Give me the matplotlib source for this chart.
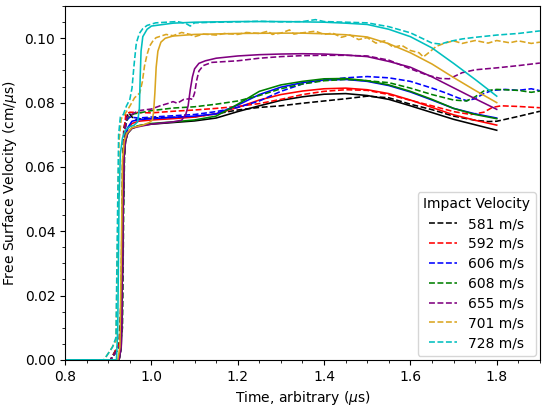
"""Free surface velocity traces: experiments (dashed) vs simulations (solid)."""

import matplotlib

matplotlib.use("Agg")
import matplotlib.pyplot as plt
from matplotlib.ticker import MultipleLocator

OUTPUT_FILE = "out.png"

VELOCITIES = ["581", "592", "606", "608", "655", "701", "728"]
COLORS = ["black", "red", "blue", "green", "purple", "goldenrod", "c"]

# --- experimental traces (dashed) ---
t_exp_581 = [0.80, 0.905, 0.925, 0.930, 0.933, 0.936, 0.942, 0.948, 0.955, 0.965, 1.0, 1.05, 1.1,
             1.15, 1.2, 1.25, 1.3, 1.35, 1.4, 1.45, 1.5, 1.55, 1.6, 1.65, 1.7, 1.75, 1.78, 1.8,
             1.82, 1.85, 1.9]
v_exp_581 = [0.0, 0.0, 0.005, 0.02, 0.06, 0.072, 0.0755, 0.0768, 0.0755, 0.0748, 0.0752, 0.0754,
             0.0756, 0.0765, 0.0777, 0.0785, 0.079, 0.0798, 0.0805, 0.0812, 0.082, 0.0815, 0.0795,
             0.0778, 0.0758, 0.0745, 0.0741, 0.0742, 0.0748, 0.0757, 0.0773]

t_exp_592 = [0.80, 0.905, 0.926, 0.931, 0.934, 0.937, 0.941, 0.95, 1.0, 1.05, 1.1, 1.15, 1.2, 1.25,
             1.3, 1.35, 1.4, 1.45, 1.5, 1.55, 1.6, 1.65, 1.7, 1.74, 1.77, 1.79, 1.81, 1.85, 1.9]
v_exp_592 = [0.0, 0.0, 0.005, 0.012, 0.05, 0.072, 0.0765, 0.077, 0.0768, 0.0773, 0.0777, 0.0782,
             0.0788, 0.0797, 0.081, 0.0825, 0.0835, 0.084, 0.0838, 0.0825, 0.0807, 0.079, 0.0772,
             0.0763, 0.077, 0.0785, 0.079, 0.0788, 0.0784]

t_exp_606 = [0.80, 0.905, 0.926, 0.932, 0.935, 0.938, 0.943, 0.95, 0.97, 1.0, 1.05, 1.1, 1.15, 1.2,
             1.25, 1.3, 1.35, 1.4, 1.45, 1.5, 1.55, 1.6, 1.65, 1.68, 1.71, 1.73, 1.75, 1.77, 1.79,
             1.82, 1.85, 1.88, 1.9]
v_exp_606 = [0.0, 0.0, 0.004, 0.01, 0.05, 0.071, 0.0745, 0.0755, 0.0752, 0.0755, 0.0759, 0.0763,
             0.0772, 0.0785, 0.0805, 0.0835, 0.0858, 0.087, 0.0877, 0.0881, 0.0877, 0.0866, 0.0845,
             0.0831, 0.0815, 0.0806, 0.0812, 0.0828, 0.0838, 0.0841, 0.0838, 0.0843, 0.0837]

t_exp_608 = [0.80, 0.905, 0.927, 0.933, 0.936, 0.939, 0.945, 0.96, 1.0, 1.05, 1.1, 1.15, 1.2, 1.25,
             1.3, 1.35, 1.4, 1.45, 1.5, 1.55, 1.6, 1.65, 1.7, 1.73, 1.75, 1.77, 1.8, 1.85, 1.88, 1.9]
v_exp_608 = [0.0, 0.0, 0.004, 0.01, 0.05, 0.072, 0.0755, 0.0765, 0.0775, 0.0783, 0.0787, 0.0795,
             0.0805, 0.0822, 0.0843, 0.0858, 0.0868, 0.0872, 0.0868, 0.0862, 0.0845, 0.0825,
             0.0808, 0.0805, 0.0818, 0.0836, 0.0841, 0.0838, 0.0832, 0.0836]

t_exp_655 = [0.80, 0.905, 0.927, 0.932, 0.935, 0.938, 0.943, 0.95, 0.97, 1.0, 1.02, 1.04, 1.05,
             1.06, 1.075, 1.09, 1.095, 1.1, 1.105, 1.11, 1.12, 1.14, 1.2, 1.25, 1.3, 1.35, 1.4,
             1.45, 1.5, 1.55, 1.6, 1.64, 1.67, 1.69, 1.72, 1.75, 1.8, 1.85, 1.9]
v_exp_655 = [0.0, 0.0, 0.004, 0.01, 0.05, 0.071, 0.0755, 0.076, 0.0775, 0.078, 0.079, 0.0798,
             0.0803, 0.0798, 0.081, 0.0812, 0.081, 0.083, 0.087, 0.0898, 0.0915, 0.0925, 0.093,
             0.0938, 0.0943, 0.0946, 0.0947, 0.0947, 0.0945, 0.0932, 0.0905, 0.0885, 0.0875,
             0.0874, 0.0893, 0.0902, 0.0908, 0.0915, 0.0923]

t_exp_701 = [0.80, 0.89, 0.905, 0.918, 0.921, 0.925, 0.93, 0.938, 0.95, 0.961, 0.973, 0.979,
             0.984, 0.99, 0.996, 1.005, 1.011, 1.034, 1.05, 1.07, 1.09, 1.1, 1.12, 1.15, 1.17,
             1.2, 1.22, 1.25, 1.27, 1.28, 1.3, 1.32, 1.33, 1.35, 1.38, 1.4, 1.42, 1.44, 1.46,
             1.48, 1.5, 1.52, 1.54, 1.56, 1.58, 1.6, 1.62, 1.63, 1.645, 1.66, 1.68, 1.7, 1.72,
             1.75, 1.78, 1.8, 1.83, 1.85, 1.88, 1.9]
v_exp_701 = [0.0, 0.0, 0.003, 0.006, 0.03, 0.068, 0.075, 0.0763, 0.0789, 0.0815, 0.083, 0.0865,
             0.0914, 0.095, 0.0976, 0.0995, 0.1002, 0.1012, 0.1008, 0.1018, 0.1012, 0.1005,
             0.1013, 0.101, 0.1015, 0.1012, 0.1018, 0.1015, 0.1022, 0.1012, 0.1016, 0.1026,
             0.1013, 0.1017, 0.1022, 0.1012, 0.1016, 0.1003, 0.101, 0.0996, 0.1002, 0.0985,
             0.0992, 0.0972, 0.0978, 0.0962, 0.0955, 0.0942, 0.0958, 0.0975, 0.0985, 0.0992,
             0.0984, 0.0993, 0.0985, 0.0993, 0.0986, 0.0992, 0.0984, 0.0988]

t_exp_728 = [0.80, 0.89, 0.91, 0.918, 0.921, 0.924, 0.928, 0.935, 0.942, 0.95, 0.955, 0.96,
             0.965, 0.972, 0.98, 0.99, 1.01, 1.035, 1.06, 1.08, 1.09, 1.1, 1.15, 1.2, 1.25, 1.3,
             1.35, 1.38, 1.4, 1.45, 1.5, 1.55, 1.6, 1.63, 1.65, 1.67, 1.69, 1.72, 1.75, 1.8,
             1.85, 1.9]
v_exp_728 = [0.0, 0.0, 0.004, 0.007, 0.04, 0.07, 0.0755, 0.0763, 0.0789, 0.081, 0.0845, 0.092,
             0.0985, 0.1015, 0.103, 0.104, 0.1048, 0.105, 0.1052, 0.1046, 0.1038, 0.1048, 0.105,
             0.1051, 0.1053, 0.1051, 0.1052, 0.1058, 0.1052, 0.105, 0.1048, 0.1036, 0.1017,
             0.0998, 0.0985, 0.0982, 0.099, 0.0998, 0.1003, 0.101, 0.1015, 0.1023]

# --- simulated traces (solid) ---
t_sim_581 = [0.80, 0.925, 0.930, 0.933, 0.936, 0.940, 0.945, 0.955, 0.97, 1.0, 1.05, 1.1, 1.15,
             1.2, 1.25, 1.3, 1.35, 1.4, 1.45, 1.5, 1.55, 1.6, 1.65, 1.7, 1.75, 1.8]
v_sim_581 = [0.0, 0.0, 0.004, 0.03, 0.062, 0.068, 0.0705, 0.072, 0.0728, 0.0733, 0.0738, 0.0743,
             0.0752, 0.0772, 0.079, 0.0807, 0.0818, 0.0826, 0.0828, 0.0822, 0.081, 0.079, 0.0769,
             0.0748, 0.0731, 0.0714]

t_sim_592 = [0.80, 0.925, 0.930, 0.933, 0.936, 0.940, 0.945, 0.955, 0.97, 1.0, 1.05, 1.1, 1.15,
             1.2, 1.25, 1.3, 1.35, 1.4, 1.45, 1.5, 1.55, 1.6, 1.65, 1.7, 1.75, 1.8]
v_sim_592 = [0.0, 0.0, 0.004, 0.03, 0.062, 0.069, 0.0718, 0.0735, 0.0742, 0.0746, 0.075, 0.0755,
             0.0765, 0.0785, 0.0808, 0.0825, 0.0836, 0.0843, 0.0845, 0.084, 0.0828, 0.0808,
             0.0785, 0.0762, 0.0745, 0.073]

t_sim_606 = [0.80, 0.925, 0.930, 0.933, 0.936, 0.940, 0.945, 0.955, 0.97, 1.0, 1.05, 1.1, 1.15,
             1.2, 1.25, 1.3, 1.35, 1.4, 1.45, 1.5, 1.55, 1.6, 1.65, 1.7, 1.75, 1.8]
v_sim_606 = [0.0, 0.0, 0.004, 0.03, 0.062, 0.069, 0.0722, 0.0742, 0.0747, 0.075, 0.0754, 0.0758,
             0.0765, 0.0792, 0.0825, 0.0848, 0.0862, 0.087, 0.0872, 0.0866, 0.0853, 0.0833,
             0.0808, 0.0782, 0.0765, 0.0752]

t_sim_608 = [0.80, 0.925, 0.930, 0.933, 0.936, 0.940, 0.945, 0.955, 0.97, 1.0, 1.05, 1.1, 1.15,
             1.2, 1.25, 1.3, 1.35, 1.4, 1.45, 1.5, 1.55, 1.6, 1.65, 1.7, 1.75, 1.8]
v_sim_608 = [0.0, 0.0, 0.004, 0.03, 0.062, 0.068, 0.0705, 0.072, 0.0728, 0.0735, 0.074, 0.0746,
             0.0758, 0.0795, 0.0835, 0.0855, 0.0866, 0.0874, 0.0875, 0.0868, 0.0855, 0.0835,
             0.081, 0.0782, 0.0763, 0.075]

t_sim_655 = [0.80, 0.925, 0.930, 0.933, 0.936, 0.940, 0.945, 0.955, 0.97, 1.0, 1.05, 1.07, 1.08,
             1.085, 1.09, 1.095, 1.1, 1.11, 1.125, 1.15, 1.2, 1.25, 1.3, 1.35, 1.4, 1.45, 1.5,
             1.55, 1.6, 1.65, 1.7, 1.75, 1.8]
v_sim_655 = [0.0, 0.0, 0.004, 0.03, 0.062, 0.068, 0.0705, 0.072, 0.0725, 0.0733, 0.074, 0.0745,
             0.0765, 0.079, 0.084, 0.088, 0.0905, 0.0922, 0.093, 0.0938, 0.0945, 0.0949, 0.0951,
             0.0952, 0.0951, 0.0948, 0.0943, 0.0928, 0.091, 0.088, 0.0846, 0.0812, 0.0779]

t_sim_701 = [0.80, 0.922, 0.927, 0.930, 0.933, 0.937, 0.943, 0.955, 0.98, 0.995, 1.002, 1.005,
             1.008, 1.011, 1.015, 1.022, 1.032, 1.05, 1.1, 1.2, 1.3, 1.35, 1.4, 1.45, 1.5, 1.55,
             1.6, 1.65, 1.7, 1.75, 1.8]
v_sim_701 = [0.0, 0.0, 0.004, 0.03, 0.062, 0.068, 0.0705, 0.0722, 0.073, 0.0738, 0.0745, 0.077,
             0.083, 0.091, 0.096, 0.0988, 0.1, 0.1007, 0.1012, 0.1015, 0.1016, 0.1016, 0.1014,
             0.1011, 0.1004, 0.0983, 0.0955, 0.092, 0.0878, 0.0838, 0.08]

t_sim_728 = [0.80, 0.919, 0.922, 0.925, 0.928, 0.933, 0.94, 0.95, 0.96, 0.968, 0.972, 0.974,
             0.976, 0.98, 0.99, 1.0, 1.05, 1.1, 1.2, 1.3, 1.35, 1.4, 1.45, 1.5, 1.55, 1.6, 1.65,
             1.7, 1.75, 1.8]
v_sim_728 = [0.0, 0.0, 0.01, 0.05, 0.064, 0.069, 0.0715, 0.0725, 0.073, 0.074, 0.078, 0.088,
             0.096, 0.1005, 0.1028, 0.1038, 0.1047, 0.105, 0.1052, 0.1052, 0.1051, 0.105, 0.1047,
             0.1043, 0.1028, 0.1005, 0.097, 0.0922, 0.0872, 0.082]

EXPERIMENTS = [(t_exp_581, v_exp_581), (t_exp_592, v_exp_592), (t_exp_606, v_exp_606),
               (t_exp_608, v_exp_608), (t_exp_655, v_exp_655), (t_exp_701, v_exp_701),
               (t_exp_728, v_exp_728)]
SIMULATIONS = [(t_sim_581, v_sim_581), (t_sim_592, v_sim_592), (t_sim_606, v_sim_606),
               (t_sim_608, v_sim_608), (t_sim_655, v_sim_655), (t_sim_701, v_sim_701),
               (t_sim_728, v_sim_728)]


def tracer(output_path: str) -> None:
    """Trace les profils de vitesse et sauvegarde la figure."""
    fig = plt.figure(figsize=(5.47, 4.08), dpi=100)
    ax = fig.add_axes([0.119, 0.118, 0.868, 0.867])

    for vel, color, (t_e, v_e), (t_s, v_s) in zip(VELOCITIES, COLORS, EXPERIMENTS, SIMULATIONS):
        ax.plot(t_e, v_e, "--", color=color, lw=1.15, label=f"{vel} m/s")
        ax.plot(t_s, v_s, "-", color=color, lw=1.15)

    ax.set_xlim(0.8, 1.9)
    ax.set_ylim(0.0, 0.11)
    ax.xaxis.set_major_locator(MultipleLocator(0.2))
    ax.xaxis.set_minor_locator(MultipleLocator(0.05))
    ax.yaxis.set_major_locator(MultipleLocator(0.02))
    ax.yaxis.set_minor_locator(MultipleLocator(0.005))
    ax.set_xlabel(r"Time, arbitrary ($\mu$s)")
    ax.set_ylabel(r"Free Surface Velocity (cm/$\mu$s)")
    ax.legend(title="Impact Velocity", loc="lower right", borderaxespad=0.3,
              labelspacing=0.42)

    fig.savefig(output_path, dpi=100)
    plt.close(fig)


if __name__ == "__main__":
    tracer(OUTPUT_FILE)
